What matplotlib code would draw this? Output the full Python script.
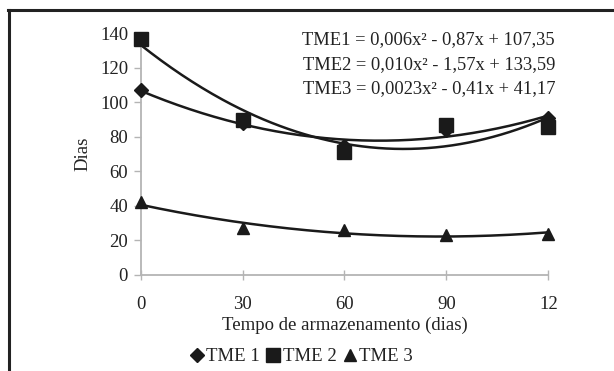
import numpy as np
import matplotlib
matplotlib.use("Agg")
import matplotlib.pyplot as plt
from matplotlib.lines import Line2D

days = [0, 30, 60, 90, 120]
x_tick_labels = ["0", "30", "60", "90", "12"]
tme1 = [107, 88, 75, 84, 91]
tme2 = [137, 90, 71, 87, 86]
tme3 = [42, 27, 26, 23, 24]
series_names = ["TME 1", "TME 2", "TME 3"]
equations = [
    "TME1 = 0,006x² - 0,87x + 107,35",
    "TME2 = 0,010x² - 1,57x + 133,59",
    "TME3 = 0,0023x² - 0,41x + 41,17",
]
y_ticks = [0, 20, 40, 60, 80, 100, 120, 140]

plt.rcParams['font.family'] = ['Liberation Serif', 'DejaVu Serif']

fig = plt.figure(figsize=(6.14, 3.71), dpi=100)
ax = fig.add_axes([0.229, 0.259, 0.664, 0.651])

markers = ['D', 's', '^']
msizes = [7, 9.5, 9]
xs = np.array(days, dtype=float)
xfine = np.linspace(0, 120, 200)
handles = []
for vals, m, ms, name in zip([tme1, tme2, tme3], markers, msizes, series_names):
    vals = np.array(vals, dtype=float)
    coef = np.polyfit(xs, vals, 2)
    ax.plot(xfine, np.polyval(coef, xfine), color='#1a1a1a', lw=1.8, zorder=2)
    ax.plot(xs, vals, linestyle='none', marker=m, ms=ms, color='#1a1a1a', zorder=3)
    handles.append(Line2D([], [], linestyle='none', marker=m, ms=ms, color='#1a1a1a', label=name))

ax.set_xlim(0, 120)
ax.set_ylim(0, 140)
ax.set_xticks(days)
ax.set_xticklabels(x_tick_labels)
ax.set_yticks(y_ticks)
for s in ['top', 'right']:
    ax.spines[s].set_visible(False)
for s in ['left', 'bottom']:
    ax.spines[s].set_color('#b4b4b4')
    ax.spines[s].set_linewidth(1.3)
ax.tick_params(axis='x', direction='inout', length=7, width=1.0, color='#b4b4b4',
               labelsize=13.5, pad=12)
ax.tick_params(axis='y', direction='out', length=5, width=1.0, color='#b4b4b4',
               labelsize=13.5, pad=4)
for lab in ax.get_xticklabels() + ax.get_yticklabels():
    lab.set_color('#222222')
for line in ax.lines:
    line.set_clip_on(False)

ax.set_xlabel("Tempo de armazenamento (dias)", fontsize=13.5, color='#222222', labelpad=2.5)
ax.set_ylabel("Dias", fontsize=13.5, color='#222222', labelpad=6)

for i, eq in enumerate(equations):
    fig.text(0.904, 0.893 - i * 0.066, eq, ha='right', va='center', fontsize=13.3, color='#222222')

leg = fig.legend(handles=handles, loc='center', bbox_to_anchor=(0.492, 0.038), ncol=3,
                 frameon=False, fontsize=13.5, handlelength=0.6, handletextpad=0.2,
                 columnspacing=0.4, borderpad=0)
for t in leg.get_texts():
    t.set_color('#222222')

# outer frame (left and top edges)
fig.add_artist(Line2D([0.015, 0.015], [0.0, 0.974], transform=fig.transFigure,
                      color='#222222', lw=2.2))
fig.add_artist(Line2D([0.0137, 1.0], [0.974, 0.974], transform=fig.transFigure,
                      color='#222222', lw=2.2))

fig.savefig("out.png", dpi=100, facecolor='white')
